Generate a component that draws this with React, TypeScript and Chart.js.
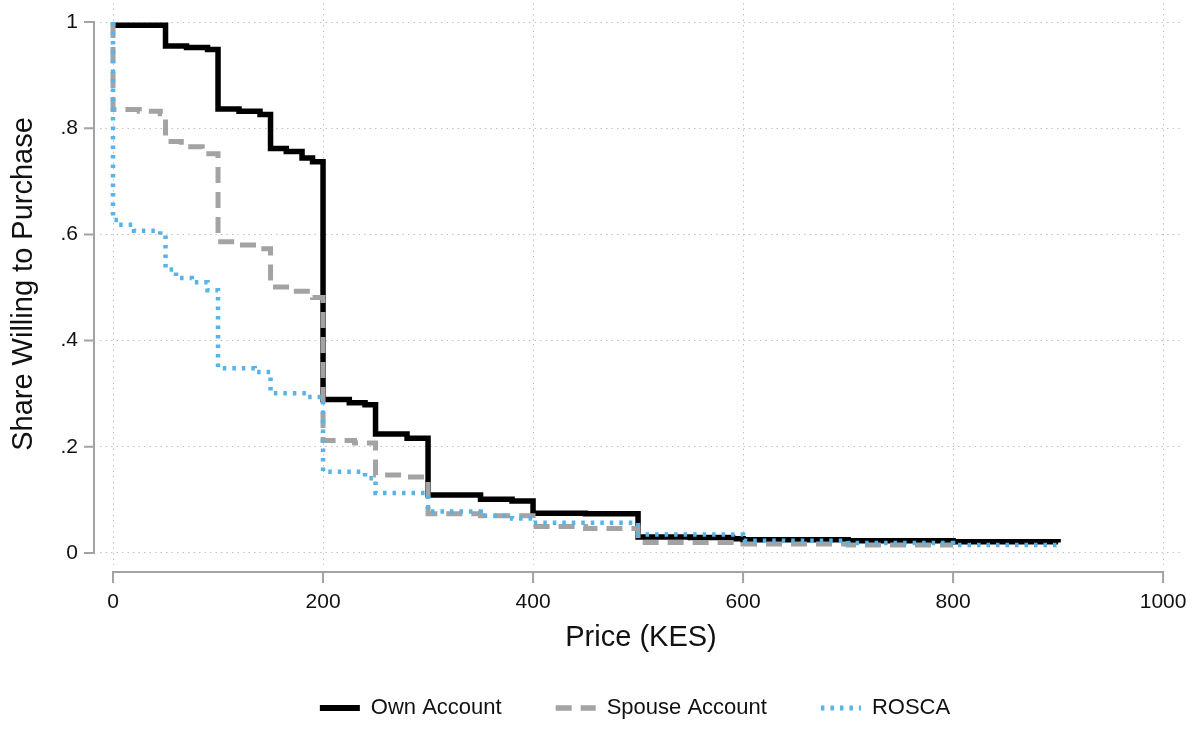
import React, { useEffect, useRef } from "react";
import { Chart, registerables } from "chart.js";

Chart.register(...registerables);

// Demand curves: share of respondents still willing to buy at each price (KES).
const ownPrice = [0, 50, 70, 90, 100, 120, 140, 150, 165, 180, 190, 200, 225, 240, 250, 280, 300, 350, 380, 400, 450, 500, 550, 590, 600, 700, 800, 900];
const ownShare = [0.994, 0.955, 0.952, 0.948, 0.836, 0.832, 0.826, 0.762, 0.756, 0.744, 0.737, 0.289, 0.283, 0.279, 0.224, 0.216, 0.109, 0.101, 0.098, 0.075, 0.074, 0.030, 0.029, 0.027, 0.025, 0.023, 0.021, 0.020];

const spousePrice = [0, 0, 25, 45, 50, 65, 85, 100, 120, 140, 150, 170, 190, 200, 230, 250, 275, 300, 350, 400, 450, 500, 600, 700, 800];
const spouseShare = [1.0, 0.835, 0.832, 0.827, 0.775, 0.765, 0.752, 0.586, 0.580, 0.573, 0.501, 0.493, 0.481, 0.212, 0.207, 0.147, 0.143, 0.074, 0.070, 0.050, 0.046, 0.020, 0.017, 0.015, 0.015];

const roscaPrice = [0, 0, 5, 20, 45, 50, 60, 75, 90, 100, 135, 150, 185, 200, 240, 250, 300, 350, 380, 400, 500, 600, 700, 800, 900];
const roscaShare = [1.0, 0.627, 0.618, 0.607, 0.599, 0.534, 0.518, 0.510, 0.495, 0.348, 0.341, 0.301, 0.294, 0.153, 0.141, 0.113, 0.078, 0.070, 0.065, 0.057, 0.035, 0.023, 0.019, 0.015, 0.015];

const seriesLabels = ["Own Account", "Spouse Account", "ROSCA"];

const xTicks = [0, 200, 400, 600, 800, 1000];
const xTickLabels = ["0", "200", "400", "600", "800", "1000"];
const yTicks = [0, 0.2, 0.4, 0.6, 0.8, 1];
const yTickLabels = ["0", ".2", ".4", ".6", ".8", "1"];

const xTitle = "Price (KES)";
const yTitle = "Share Willing to Purchase";

const FONT = '"Liberation Sans", Arial, Helvetica, sans-serif';
const AXIS_COLOR = "#a3a3a3";
const GRID_COLOR = "#c2c2c2";
const TEXT_COLOR = "#111111";

const toPoints = (xs: number[], ys: number[]) => xs.map((x, i) => ({ x, y: ys[i] }));

// Stata-style axes: lines detached from the plot region, spanning first to last tick.
const detachedAxes = {
  id: "detachedAxes",
  afterDraw(chart: any) {
    const { ctx, chartArea, scales } = chart;
    const xs = scales.x;
    const ys = scales.y;
    ctx.save();
    ctx.strokeStyle = AXIS_COLOR;
    ctx.lineWidth = 2;
    ctx.lineJoin = "miter";
    ctx.lineCap = "butt";

    // vertical axis
    const ax = chartArea.left - 6;
    const yFirst = ys.getPixelForValue(yTicks[0]);
    const yLast = ys.getPixelForValue(yTicks[yTicks.length - 1]);
    ctx.beginPath();
    ctx.moveTo(ax - 10, yLast);
    ctx.lineTo(ax, yLast);
    ctx.lineTo(ax, yFirst);
    ctx.lineTo(ax - 10, yFirst);
    for (const v of yTicks.slice(1, -1)) {
      const p = ys.getPixelForValue(v);
      ctx.moveTo(ax - 10, p);
      ctx.lineTo(ax, p);
    }
    ctx.stroke();

    // horizontal axis
    const ay = chartArea.bottom + 7;
    const xFirst = xs.getPixelForValue(xTicks[0]);
    const xLast = xs.getPixelForValue(xTicks[xTicks.length - 1]);
    ctx.beginPath();
    ctx.moveTo(xFirst, ay + 11);
    ctx.lineTo(xFirst, ay);
    ctx.lineTo(xLast, ay);
    ctx.lineTo(xLast, ay + 11);
    for (const v of xTicks.slice(1, -1)) {
      const p = xs.getPixelForValue(v);
      ctx.moveTo(p, ay);
      ctx.lineTo(p, ay + 11);
    }
    ctx.stroke();
    ctx.restore();
  },
};

export default function App() {
  const canvasRef = useRef<HTMLCanvasElement | null>(null);

  useEffect(() => {
    const canvas = canvasRef.current;
    if (!canvas) return;

    const chart = new Chart(canvas, {
      type: "line",
      data: {
        datasets: [
          {
            label: seriesLabels[0],
            data: toPoints(ownPrice, ownShare),
            borderColor: "#000000",
            backgroundColor: "#000000",
            borderWidth: 5.5,
            borderDash: [],
            stepped: true,
            pointRadius: 0,
            order: 3,
          },
          {
            label: seriesLabels[1],
            data: toPoints(spousePrice, spouseShare),
            borderColor: "#a3a3a3",
            backgroundColor: "#a3a3a3",
            borderWidth: 5,
            borderDash: [16, 9],
            stepped: true,
            pointRadius: 0,
            order: 2,
          },
          {
            label: seriesLabels[2],
            data: toPoints(roscaPrice, roscaShare),
            borderColor: "#56b4e9",
            backgroundColor: "#56b4e9",
            borderWidth: 4.5,
            borderDash: [3.5, 6],
            stepped: true,
            pointRadius: 0,
            order: 1,
          },
        ],
      },
      options: {
        animation: false,
        responsive: false,
        devicePixelRatio: 1,
        layout: { padding: { left: 88, right: 19, top: 3, bottom: 0 } },
        elements: { line: { borderJoinStyle: "miter", borderCapStyle: "butt", tension: 0 } },
        plugins: {
          tooltip: { enabled: false },
          legend: {
            position: "bottom",
            labels: {
              usePointStyle: true,
              pointStyle: "line",
              pointStyleWidth: 40,
              boxWidth: 40,
              padding: 54,
              color: TEXT_COLOR,
              font: { family: FONT, size: 22 },
              generateLabels: (c: any) =>
                c.data.datasets.map((ds: any, i: number) => ({
                  text: ds.label,
                  fillStyle: ds.borderColor,
                  strokeStyle: ds.borderColor,
                  lineWidth: ds.borderWidth + 0.5,
                  lineDash: ds.borderDash || [],
                  lineCap: "butt",
                  pointStyle: "line",
                  hidden: false,
                  datasetIndex: i,
                  fontColor: TEXT_COLOR,
                })),
            },
          },
        },
        scales: {
          x: {
            type: "linear",
            min: -12.4,
            max: 1018,
            afterBuildTicks: (s: any) => {
              s.ticks = xTicks.map((v) => ({ value: v }));
            },
            afterFit: (s: any) => {
              s.height = 78;
              s.paddingLeft = 0;
              s.paddingRight = 0;
            },
            grid: { color: GRID_COLOR, lineWidth: 1, drawTicks: false },
            border: { display: false, dash: [1.5, 4] },
            ticks: {
              autoSkip: false,
              maxRotation: 0,
              padding: 25,
              color: TEXT_COLOR,
              font: { family: FONT, size: 21 },
              callback: (v: any) => xTickLabels[xTicks.indexOf(Number(v))] ?? "",
            },
            title: {
              display: true,
              text: xTitle,
              color: TEXT_COLOR,
              font: { family: FONT, size: 29 },
              padding: { top: 0, bottom: -12.4 },
            },
          },
          y: {
            type: "linear",
            min: -0.0226,
            max: 1.0358,
            afterBuildTicks: (s: any) => {
              s.ticks = yTicks.map((v) => ({ value: v }));
            },
            afterFit: (s: any) => {
              s.width = 12;
              s.paddingTop = 0;
              s.paddingBottom = 0;
            },
            grid: { color: GRID_COLOR, lineWidth: 1, drawTicks: false },
            border: { display: false, dash: [1.5, 4] },
            ticks: {
              autoSkip: false,
              // right-aligned labels placed to the left of the detached axis line
              mirror: true,
              crossAlign: "far",
              padding: -39.5,
              color: TEXT_COLOR,
              font: { family: FONT, size: 21 },
              callback: (v: any) => {
                const i = yTicks.findIndex((t) => Math.abs(t - Number(v)) < 1e-9);
                return i >= 0 ? yTickLabels[i] : "";
              },
            },
            title: {
              display: true,
              text: yTitle,
              color: TEXT_COLOR,
              font: { family: FONT, size: 29 },
              padding: { top: -81.5, bottom: 0 },
            },
          },
        },
      } as any,
      plugins: [detachedAxes],
    });

    return () => chart.destroy();
  }, []);

  return (
    <div style={{ position: "absolute", left: 0, top: 0, width: 1201, height: 729, background: "#ffffff" }}>
      <canvas ref={canvasRef} width={1201} height={729} style={{ display: "block" }} />
    </div>
  );
}
